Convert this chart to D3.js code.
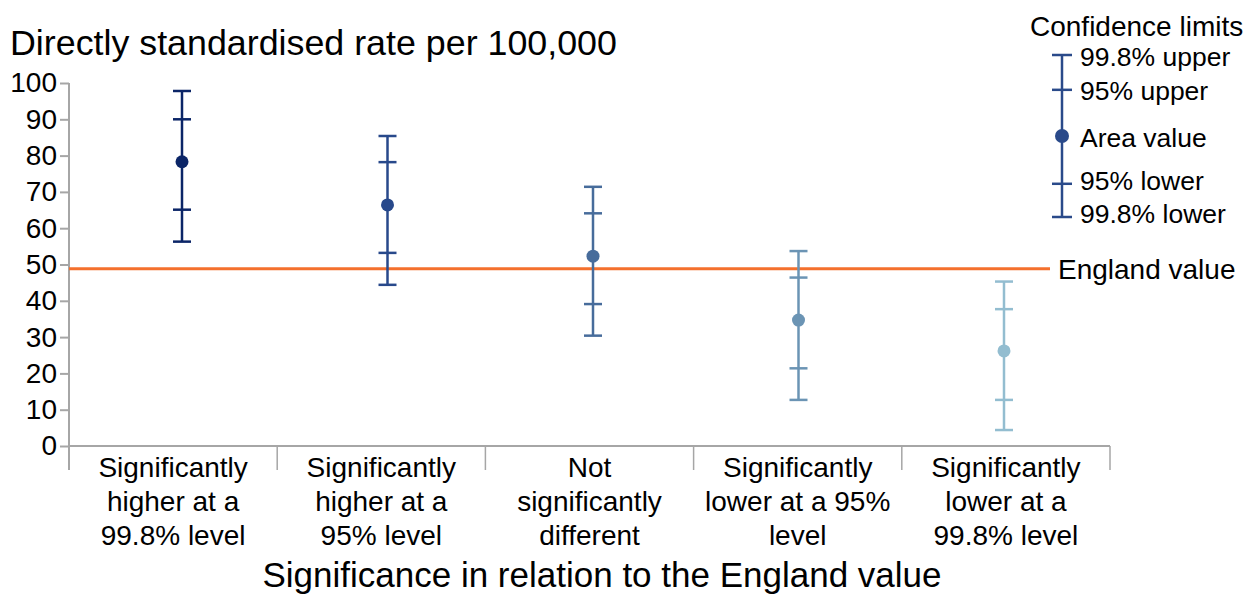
<!DOCTYPE html>
<html>
<head>
<meta charset="utf-8">
<script src="https://cdn.jsdelivr.net/npm/d3@7"></script>
<style>
  html, body { margin: 0; padding: 0; background: #fff; }
  svg { display: block; font-family: "Liberation Sans", Arial, sans-serif; }
</style>
</head>
<body>
<svg id="chart" width="1258" height="596"></svg>
<script>
// ---- data ----
const categories = [
  "Significantly higher at a 99.8% level",
  "Significantly higher at a 95% level",
  "Not significantly different",
  "Significantly lower at a 95% level",
  "Significantly lower at a 99.8% level"
];
const categoryLines = [
  ["Significantly", "higher at a", "99.8% level"],
  ["Significantly", "higher at a", "95% level"],
  ["Not", "significantly", "different"],
  ["Significantly", "lower at a 95%", "level"],
  ["Significantly", "lower at a", "99.8% level"]
];
const areaValue = [78.3, 66.4, 52.3, 34.7, 26.2];
const upper998  = [97.8, 85.4, 71.4, 53.7, 45.3];
const upper95   = [90.0, 78.2, 64.1, 46.4, 37.7];
const lower95   = [65.1, 53.2, 39.1, 21.4, 12.7];
const lower998  = [56.3, 44.4, 30.4, 12.7, 4.4];
const englandValue = 48.8;
const yTicks = [0, 10, 20, 30, 40, 50, 60, 70, 80, 90, 100];
const seriesColors = ["#0b2567", "#28498b", "#476c9b", "#6b94b4", "#93bdd0"];
const legendLabels = ["99.8% upper", "95% upper", "Area value", "95% lower", "99.8% lower"];
const legendLevels = [100, 78.5, 50, 20.5, 0]; // relative positions in the legend glyph

const yTitle = "Directly standardised rate per 100,000";
const xTitle = "Significance in relation to the England value";

// ---- layout ----
const svg = d3.select("#chart");
const axisColor = "#a6a6a6";
const orange = "#f4702d";
const smallFont = 28;

const y = d3.scaleLinear().domain([0, 100]).range([446, 83]);
const xBand = d3.scaleBand().domain(categories).range([69, 1110]).padding(0);
const xPt = d3.scalePoint().domain(categories).range([182, 1004]);

// y title
svg.append("text").attr("x", 10).attr("y", 55)
  .attr("font-size", 35.8).attr("fill", "#000").text(yTitle);

// y axis
const yAxis = svg.append("g").attr("transform", "translate(69,0)")
  .call(d3.axisLeft(y).tickValues(yTicks).tickSize(9).tickPadding(3));
yAxis.select(".domain").remove();
yAxis.selectAll(".tick line").attr("stroke", axisColor).attr("stroke-width", 2);
yAxis.selectAll(".tick text").attr("font-size", smallFont).attr("fill", "#000")
  .attr("font-family", "Liberation Sans, Arial, sans-serif");
svg.append("line").attr("x1", 69).attr("x2", 69).attr("y1", y(100)).attr("y2", 470)
  .attr("stroke", axisColor).attr("stroke-width", 2);

// x axis
svg.append("line").attr("x1", 69).attr("x2", 1110).attr("y1", y(0)).attr("y2", y(0))
  .attr("stroke", axisColor).attr("stroke-width", 2);
const dividers = categories.map(c => xBand(c)).concat([xBand.range()[1]]);
svg.selectAll("line.div").data(dividers).enter().append("line")
  .attr("class", "div")
  .attr("x1", d => d).attr("x2", d => d).attr("y1", y(0)).attr("y2", 470)
  .attr("stroke", axisColor).attr("stroke-width", 1.5);

// category labels
categories.forEach((c, i) => {
  const t = svg.append("text").attr("text-anchor", "middle")
    .attr("font-size", smallFont).attr("fill", "#000");
  categoryLines[i].forEach((ln, j) => {
    t.append("tspan").attr("x", xBand(c) + xBand.bandwidth() / 2)
      .attr("y", 477 + j * 34).text(ln);
  });
});

// x title
svg.append("text").attr("x", 602).attr("y", 587).attr("text-anchor", "middle")
  .attr("font-size", 35).attr("fill", "#000").text(xTitle);

// England line
svg.append("line").attr("x1", 69).attr("x2", 1050)
  .attr("y1", y(englandValue)).attr("y2", y(englandValue))
  .attr("stroke", orange).attr("stroke-width", 3);
svg.append("text").attr("x", 1058).attr("y", y(englandValue) + 10)
  .attr("font-size", smallFont).attr("fill", "#000").text("England value");

// error bars
const capW = 9;
const rows = categories.map((c, i) => ({
  c, i, v: areaValue[i], u998: upper998[i], u95: upper95[i], l95: lower95[i], l998: lower998[i],
  color: seriesColors[i]
}));
const g = svg.append("g");
rows.forEach(d => {
  const cx = xPt(d.c);
  g.append("line").attr("x1", cx).attr("x2", cx).attr("y1", y(d.u998)).attr("y2", y(d.l998))
    .attr("stroke", d.color).attr("stroke-width", 2.5);
  [d.u998, d.u95, d.l95, d.l998].forEach(val => {
    g.append("line").attr("x1", cx - capW).attr("x2", cx + capW)
      .attr("y1", y(val)).attr("y2", y(val))
      .attr("stroke", d.color).attr("stroke-width", 2.5);
  });
  g.append("circle").attr("cx", cx).attr("cy", y(d.v)).attr("r", 6.5).attr("fill", d.color);
});

// legend
const legColor = "#2a4a8a";
svg.append("text").attr("x", 1030).attr("y", 36).attr("font-size", 28).attr("fill", "#000")
  .text("Confidence limits");
const ly = d3.scaleLinear().domain([0, 100]).range([217, 55]);
const lx = 1062;
svg.append("line").attr("x1", lx).attr("x2", lx).attr("y1", ly(100)).attr("y2", ly(0))
  .attr("stroke", legColor).attr("stroke-width", 2.5);
legendLevels.forEach((lv, i) => {
  if (i === 2) {
    svg.append("circle").attr("cx", lx).attr("cy", ly(lv)).attr("r", 7).attr("fill", legColor);
  } else {
    svg.append("line").attr("x1", lx - 10).attr("x2", lx + 10).attr("y1", ly(lv)).attr("y2", ly(lv))
      .attr("stroke", legColor).attr("stroke-width", 2.5);
  }
});
const legTextY = [66, 100, 147, 190, 223];
legendLabels.forEach((lab, i) => {
  svg.append("text").attr("x", 1080).attr("y", legTextY[i]).attr("font-size", 26.5)
    .attr("fill", "#000").text(lab);
});
</script>
</body>
</html>
